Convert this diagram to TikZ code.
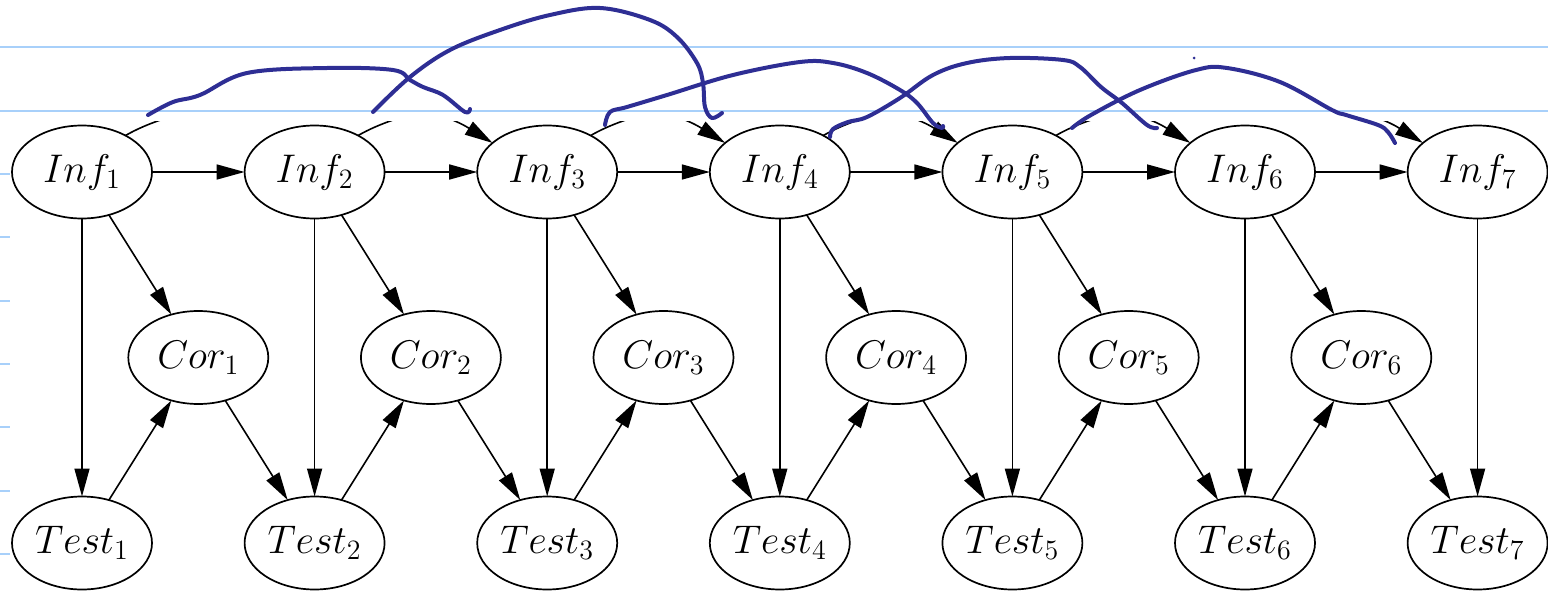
\documentclass[tikz,border=0pt]{standalone}
\usepackage{fix-cm}
\usetikzlibrary{shapes, arrows.meta, positioning, calc}
\definecolor{penblue}{RGB}{46,46,148}
\definecolor{paperline}{RGB}{168,208,250}
\tikzstyle{ell} = [ellipse, draw=black, line width=0.85pt, minimum width=70pt, minimum height=46.5pt, inner sep=0pt, outer sep=0pt, font=\fontsize{20}{24}\selectfont]
\tikzstyle{line} = [line width=0.8pt, -{Triangle[length=14pt,width=7.5pt]}]
\tikzstyle{pen} = [penblue, line width=2pt, line cap=round, line join=round]
\tikzstyle{rule} = [paperline, line width=1pt]

\begin{document}
\begin{tikzpicture}[x=0.5pt, y=0.5pt, node distance=139pt and 46.3pt]
\useasboundingbox (0,0) rectangle (1548,591);

% notebook paper
\draw [rule] (0,544) -- (1548,544);
\draw [rule] (0,480) -- (1548,480);
\draw [rule] (0,417) -- (10,417);
\draw [rule] (0,354) -- (10,354);
\draw [rule] (0,290) -- (10,290);
\draw [rule] (0,227) -- (10,227);
\draw [rule] (0,164) -- (10,164);
\draw [rule] (0,100) -- (10,100);
\draw [rule] (0,37) -- (10,37);

\node (inf1) [ell] at (82,419) {$Inf_1$};
\node (inf2) [ell, right=of inf1] {$Inf_2$};
\node (inf3) [ell, right=of inf2] {$Inf_3$};
\node (inf4) [ell, right=of inf3] {$Inf_4$};
\node (inf5) [ell, right=of inf4] {$Inf_5$};
\node (inf6) [ell, right=of inf5] {$Inf_6$};
\node (inf7) [ell, right=of inf6] {$Inf_7$};

\node (test1) [ell, below=of inf1] {$Test_1$};
\node (test2) [ell, below=of inf2] {$Test_2$};
\node (test3) [ell, below=of inf3] {$Test_3$};
\node (test4) [ell, below=of inf4] {$Test_4$};
\node (test5) [ell, below=of inf5] {$Test_5$};
\node (test6) [ell, below=of inf6] {$Test_6$};
\node (test7) [ell, below=of inf7] {$Test_7$};

\node (cor1) [ell] at ($(inf1)!0.5!(test2)$) {$Cor_1$};
\node (cor2) [ell] at ($(inf2)!0.5!(test3)$) {$Cor_2$};
\node (cor3) [ell] at ($(inf3)!0.5!(test4)$) {$Cor_3$};
\node (cor4) [ell] at ($(inf4)!0.5!(test5)$) {$Cor_4$};
\node (cor5) [ell] at ($(inf5)!0.5!(test6)$) {$Cor_5$};
\node (cor6) [ell] at ($(inf6)!0.5!(test7)$) {$Cor_6$};

\draw [line] (inf1) -- (inf2);
\draw [line] (inf2) -- (inf3);
\draw [line] (inf3) -- (inf4);
\draw [line] (inf4) -- (inf5);
\draw [line] (inf5) -- (inf6);
\draw [line] (inf6) -- (inf7);

\draw [line] (inf1) -- (test1);
\draw [line] (inf2) -- (test2);
\draw [line] (inf3) -- (test3);
\draw [line] (inf4) -- (test4);
\draw [line] (inf5) -- (test5);
\draw [line] (inf6) -- (test6);
\draw [line] (inf7) -- (test7);

\draw [line] (inf1) -- (cor1);
\draw [line] (inf2) -- (cor2);
\draw [line] (inf3) -- (cor3);
\draw [line] (inf4) -- (cor4);
\draw [line] (inf5) -- (cor5);
\draw [line] (inf6) -- (cor6);

\draw [line] (test1) -- (cor1);
\draw [line] (test2) -- (cor2);
\draw [line] (test3) -- (cor3);
\draw [line] (test4) -- (cor4);
\draw [line] (test5) -- (cor5);
\draw [line] (test6) -- (cor6);

\draw [line] (cor1) -- (test2);
\draw [line] (cor2) -- (test3);
\draw [line] (cor3) -- (test4);
\draw [line] (cor4) -- (test5);
\draw [line] (cor5) -- (test6);
\draw [line] (cor6) -- (test7);

% skip edges, cut off at the top
\begin{scope}
\clip (0,0) rectangle (1548,470);
\draw [line] (inf1.40) .. controls +(30:100) and +(148:100) .. (inf3.152);
\draw [line] (inf2.40) .. controls +(30:100) and +(148:100) .. (inf4.152);
\draw [line] (inf3.40) .. controls +(30:100) and +(148:100) .. (inf5.152);
\draw [line] (inf4.40) .. controls +(30:100) and +(148:100) .. (inf6.152);
\draw [line] (inf5.40) .. controls +(30:100) and +(148:100) .. (inf7.152);
\end{scope}

% hand drawn strokes
\draw [pen] plot [smooth, tension=0.6] coordinates {(148,476) (173,489) (200,496) (247,518) (327,523) (393,521) (410,511) (423,504) (443,496) (465,479) (470,482)};
\draw [pen] plot [smooth, tension=0.6] coordinates {(373,479) (410,514) (450,541) (500,561) (550,576) (600,583) (650,571) (677,554) (697,528) (703,508) (705,484) (712,473) (722,478)};
\draw [pen] plot [smooth, tension=0.6] coordinates {(605,466) (610,479) (627,484) (667,496) (733,516) (800,529) (833,528) (867,518) (900,501) (917,488) (933,468) (942,463) (943,465)};
\draw [pen] plot [smooth, tension=0.6] coordinates {(830,454) (833,462) (848,469) (867,474) (900,493) (933,516) (967,528) (1010,533) (1063,531) (1080,524) (1101,504) (1122,488) (1147,466) (1157,463)};
\draw [pen] plot [smooth, tension=0.6] coordinates {(1072,463) (1091,476) (1140,501) (1196,521) (1227,523) (1280,509) (1332,481) (1346,476) (1378,466) (1388,459) (1395,448)};
\fill [penblue] (1194,533) circle (1.5);
\end{tikzpicture}
\end{document}
